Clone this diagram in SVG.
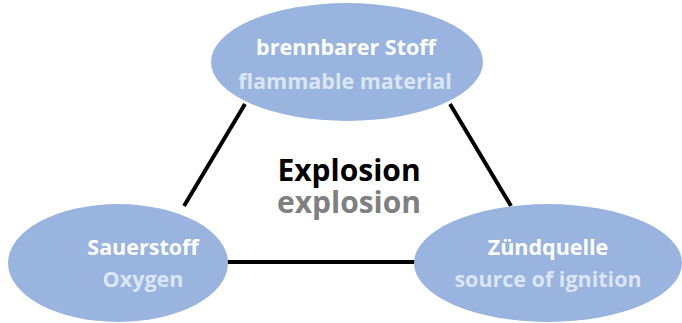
<svg xmlns="http://www.w3.org/2000/svg" width="682" height="323" viewBox="0 0 682 323">
<style>
.node{fill:#98b4df}
.t1{font-family:"Open Sans","Liberation Sans",sans-serif;font-weight:bold;font-size:21.5px;fill:#ffffff;text-anchor:middle}
.t2{font-family:"Open Sans","Liberation Sans",sans-serif;font-weight:bold;font-size:21.5px;fill:#dce5f4;text-anchor:middle}
.c{stroke:#000;stroke-width:4;fill:none}
.ex{font-family:"Open Sans","Liberation Sans",sans-serif;font-weight:bold;font-size:30px;text-anchor:middle}
</style>
<rect width="682" height="323" fill="#fff"/>
<g id="connectors">
<line class="c" x1="245" y1="104" x2="184" y2="206"/>
<line class="c" x1="450" y1="104" x2="511" y2="206"/>
<line class="c" x1="226" y1="262" x2="416" y2="262"/>
</g>
<g id="center">
<text class="ex" x="349" y="181" fill="#000">Explosion</text>
<text class="ex" x="349" y="213" fill="#808080">explosion</text>
</g>
<g id="fuel">
<ellipse class="node" cx="347" cy="62" rx="136" ry="59"/>
<text class="t1" x="346" y="55">brennbarer Stoff</text>
<text class="t2" x="345" y="89">flammable material</text>
</g>
<g id="oxygen">
<ellipse class="node" cx="118" cy="263" rx="110" ry="59"/>
<text class="t1" x="143" y="255">Sauerstoff</text>
<text class="t2" x="143" y="287">Oxygen</text>
</g>
<g id="ignition">
<ellipse class="node" cx="548" cy="263" rx="134" ry="59"/>
<text class="t1" x="548" y="255">Zündquelle</text>
<text class="t2" x="548" y="287">source of ignition</text>
</g>
</svg>
